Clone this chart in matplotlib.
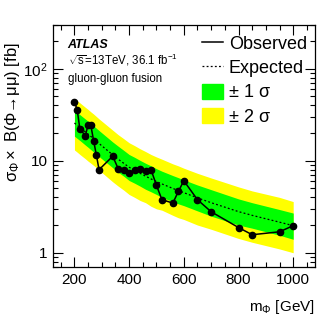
import matplotlib
matplotlib.use("Agg")
import matplotlib.pyplot as plt
from matplotlib.lines import Line2D
from matplotlib.patches import Patch
from matplotlib.ticker import FixedLocator, MultipleLocator, NullFormatter

plt.rcParams['font.family'] = ['Liberation Sans', 'DejaVu Sans']
plt.rcParams['mathtext.fontset'] = 'custom'
plt.rcParams['mathtext.rm'] = 'Liberation Sans'
plt.rcParams['mathtext.it'] = 'Liberation Sans:italic'
plt.rcParams['mathtext.bf'] = 'Liberation Sans:bold'

# observed limit
obs_mass = [200, 210, 220, 240, 250, 260, 270, 280, 290, 340, 360, 380, 400, 420,
            440, 460, 480, 500, 520, 560, 580, 600, 650, 700, 800, 850, 950, 1000]
obs_limit = [44.0, 35.8, 22.0, 18.8, 24.6, 24.2, 16.6, 11.6, 8.0, 11.2, 8.2, 8.0, 7.35, 8.0,
             8.1, 7.8, 8.0, 5.4, 3.77, 3.47, 4.64, 6.06, 3.77, 2.79, 1.88, 1.57, 1.69, 1.97]

# expected limit and bands
exp_mass = obs_mass
exp_limit = [25.7, 24.3, 23.0, 20.6, 19.5, 18.4, 17.4, 16.4, 15.4, 11.6, 10.4, 9.4, 8.5, 7.9,
             7.3, 6.8, 6.35, 5.95, 5.6, 5.0, 4.75, 4.5, 3.95, 3.5, 2.8, 2.55, 2.15, 1.97]
band1_hi = [35.5, 33.5, 31.7, 28.4, 26.9, 25.4, 24.0, 22.6, 21.3, 16.0, 14.4, 13.0, 11.7, 10.9,
            10.1, 9.4, 8.8, 8.2, 7.7, 6.9, 6.55, 6.2, 5.45, 4.85, 3.85, 3.5, 2.95, 2.7]
band1_lo = [18.5, 17.5, 16.6, 14.8, 14.0, 13.2, 12.5, 11.8, 11.1, 8.4, 7.5, 6.8, 6.1, 5.7,
            5.3, 4.9, 4.6, 4.3, 4.0, 3.6, 3.4, 3.25, 2.85, 2.5, 2.0, 1.85, 1.55, 1.4]
band2_hi = [47.5, 45.0, 42.6, 38.1, 36.1, 34.0, 32.2, 30.3, 28.5, 21.5, 19.2, 17.4, 15.7, 14.6,
            13.5, 12.6, 11.7, 11.0, 10.4, 9.25, 8.8, 8.3, 7.3, 6.5, 5.2, 4.7, 4.0, 3.6]
band2_lo = [13.1, 12.4, 11.7, 10.5, 9.9, 9.4, 8.9, 8.4, 7.9, 5.9, 5.3, 4.8, 4.3, 4.0,
            3.7, 3.5, 3.2, 3.0, 2.9, 2.55, 2.4, 2.3, 2.0, 1.8, 1.43, 1.3, 1.1, 1.0]

fig = plt.figure(figsize=(3.32, 3.19), dpi=100)
ax = fig.add_axes([0.160, 0.163, 0.789, 0.759])

ax.fill_between(exp_mass, band2_lo, band2_hi, color='#ffff00', lw=0)
ax.fill_between(exp_mass, band1_lo, band1_hi, color='#00ff00', lw=0)
ax.plot(exp_mass, exp_limit, color='black', lw=0.9, ls=(0, (1.5, 1.8)))
ax.plot(obs_mass, obs_limit, color='black', lw=1.1, marker='o', ms=4.5)

ax.set_yscale('log')
ax.set_xlim(122, 1080)
ax.set_ylim(0.7, 300)

ax.xaxis.set_major_locator(MultipleLocator(200))
ax.xaxis.set_minor_locator(MultipleLocator(50))
ax.yaxis.set_major_locator(FixedLocator([1, 10, 100]))
ax.set_yticklabels(['1', '10', r'10$^{2}$'])
ax.yaxis.set_minor_formatter(NullFormatter())
ax.tick_params(which='both', direction='in', top=True, right=True, labelsize=11, width=0.8)
ax.tick_params(which='major', length=7, pad=4)
ax.tick_params(which='minor', length=3.5)
for s in ax.spines.values():
    s.set_linewidth(0.9)

ax.set_xlabel(r'm$_{\Phi}$ [GeV]', fontsize=11, ha='right')
ax.xaxis.set_label_coords(1.0, -0.13)
ax.set_ylabel(r'$\mathrm{\sigma_{\Phi}}\times$ B(Φ→μμ) [fb]', fontsize=12, ha='right')
ax.yaxis.set_label_coords(-0.118, 0.93)

ax.text(0.055, 0.905, 'ATLAS', transform=ax.transAxes, fontsize=9,
        fontweight='bold', fontstyle='italic')
ax.text(0.055, 0.835, r'$\sqrt{\rm s}$=13TeV, 36.1 fb$^{-1}$', transform=ax.transAxes, fontsize=8.3)
ax.text(0.055, 0.765, 'gluon-gluon fusion', transform=ax.transAxes, fontsize=8.3)

handles = [Line2D([], [], color='black', lw=1.1),
           Line2D([], [], color='black', lw=0.9, ls=(0, (1.5, 1.8))),
           Patch(color='#00ff00'), Patch(color='#ffff00')]
labels = ['Observed', 'Expected', '± 1 σ', '± 2 σ']
ax.legend(handles, labels, loc='upper left', bbox_to_anchor=(0.57, 0.957), frameon=False,
          fontsize=13, handlelength=1.16, handleheight=0.9, handletextpad=0.3,
          labelspacing=0.36, borderpad=0, borderaxespad=0)

fig.savefig('out.png', dpi=100)
